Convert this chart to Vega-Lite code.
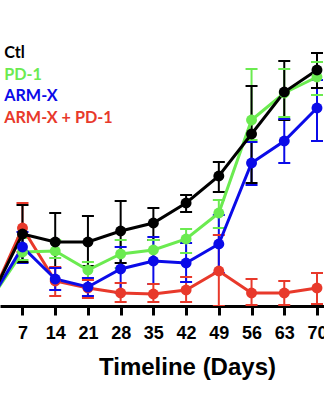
{
  "$schema": "https://vega.github.io/schema/vega-lite/v6.json",
  "width": 324,
  "height": 306,
  "autosize": "none",
  "padding": {"top": 0, "left": 0, "right": 0, "bottom": 94},
  "background": "white",
  "config": {"view": {"stroke": null}},
  "data": {"values": [
    {"group": "ARM-X + PD-1", "day": 0, "v": 5, "lo": 5, "hi": 5},
    {"group": "ARM-X + PD-1", "day": 7, "v": 78, "lo": 54, "hi": 103},
    {"group": "ARM-X + PD-1", "day": 14, "v": 25, "lo": 10, "hi": 39},
    {"group": "ARM-X + PD-1", "day": 21, "v": 18, "lo": 8, "hi": 26},
    {"group": "ARM-X + PD-1", "day": 28, "v": 13, "lo": 4, "hi": 23},
    {"group": "ARM-X + PD-1", "day": 35, "v": 12, "lo": 4, "hi": 22},
    {"group": "ARM-X + PD-1", "day": 42, "v": 16, "lo": 4, "hi": 29},
    {"group": "ARM-X + PD-1", "day": 49, "v": 35, "lo": 0, "hi": 71},
    {"group": "ARM-X + PD-1", "day": 56, "v": 13, "lo": 1, "hi": 27},
    {"group": "ARM-X + PD-1", "day": 63, "v": 13, "lo": 1, "hi": 25},
    {"group": "ARM-X + PD-1", "day": 70, "v": 18, "lo": 2, "hi": 33},
    {"group": "PD-1", "day": 0, "v": 5, "lo": 5, "hi": 5},
    {"group": "PD-1", "day": 7, "v": 54, "lo": 46, "hi": 68},
    {"group": "PD-1", "day": 14, "v": 55, "lo": 48, "hi": 66},
    {"group": "PD-1", "day": 21, "v": 36, "lo": 28, "hi": 44},
    {"group": "PD-1", "day": 28, "v": 52, "lo": 38, "hi": 66},
    {"group": "PD-1", "day": 35, "v": 56, "lo": 44, "hi": 66},
    {"group": "PD-1", "day": 42, "v": 67, "lo": 53, "hi": 77},
    {"group": "PD-1", "day": 49, "v": 93, "lo": 78, "hi": 106},
    {"group": "PD-1", "day": 56, "v": 186, "lo": 166, "hi": 237},
    {"group": "PD-1", "day": 63, "v": 213, "lo": 189, "hi": 237},
    {"group": "PD-1", "day": 70, "v": 229, "lo": 211, "hi": 244},
    {"group": "ARM-X", "day": 0, "v": 5, "lo": 5, "hi": 5},
    {"group": "ARM-X", "day": 7, "v": 59, "lo": 43, "hi": 74},
    {"group": "ARM-X", "day": 14, "v": 27, "lo": 16, "hi": 38},
    {"group": "ARM-X", "day": 21, "v": 19, "lo": 10, "hi": 28},
    {"group": "ARM-X", "day": 28, "v": 37, "lo": 13, "hi": 59},
    {"group": "ARM-X", "day": 35, "v": 45, "lo": 22, "hi": 69},
    {"group": "ARM-X", "day": 42, "v": 43, "lo": 24, "hi": 63},
    {"group": "ARM-X", "day": 49, "v": 62, "lo": 33, "hi": 91},
    {"group": "ARM-X", "day": 56, "v": 143, "lo": 121, "hi": 164},
    {"group": "ARM-X", "day": 63, "v": 165, "lo": 143, "hi": 187},
    {"group": "ARM-X", "day": 70, "v": 198, "lo": 165, "hi": 226},
    {"group": "Ctl", "day": 0, "v": 6, "lo": 6, "hi": 6},
    {"group": "Ctl", "day": 7, "v": 72, "lo": 44, "hi": 101},
    {"group": "Ctl", "day": 14, "v": 64, "lo": 38, "hi": 93},
    {"group": "Ctl", "day": 21, "v": 64, "lo": 40, "hi": 90},
    {"group": "Ctl", "day": 28, "v": 75, "lo": 43, "hi": 105},
    {"group": "Ctl", "day": 35, "v": 83, "lo": 66, "hi": 98},
    {"group": "Ctl", "day": 42, "v": 103, "lo": 94, "hi": 111},
    {"group": "Ctl", "day": 49, "v": 130, "lo": 114, "hi": 144},
    {"group": "Ctl", "day": 56, "v": 172, "lo": 123, "hi": 220},
    {"group": "Ctl", "day": 63, "v": 214, "lo": 186, "hi": 245},
    {"group": "Ctl", "day": 70, "v": 236, "lo": 218, "hi": 253}
  ]},
  "encoding": {
    "x": {"field": "day", "type": "quantitative",
      "scale": {"domain": [2.19, 71.5], "nice": false, "zero": false},
      "axis": {"values": [7, 14, 21, 28, 35, 42, 49, 56, 63, 70], "grid": false,
        "domainColor": "black", "domainWidth": 3, "tickColor": "black", "tickWidth": 3, "tickSize": 9,
        "labelFont": "Liberation Sans", "labelFontWeight": "bold", "labelFontSize": 18, "labelColor": "black",
        "labelPadding": 9, "labelBaseline": "top", "labelFlush": false, "labelOverlap": false,
        "title": "Timeline (Days)", "titleFont": "Liberation Sans", "titleFontWeight": "bold", "titleFontSize": 24,
        "titleColor": "black", "titleX": 187, "titleY": 68, "titleAlign": "center", "titleBaseline": "alphabetic"}},
    "y": {"field": "v", "type": "quantitative", "scale": {"domain": [0, 306], "nice": false}, "axis": null},
    "color": {"field": "group", "type": "nominal",
      "scale": {"domain": ["Ctl", "PD-1", "ARM-X", "ARM-X + PD-1"], "range": ["#000000", "#6BEB50", "#0B0BE8", "#E8392B"]},
      "legend": {"orient": "none", "legendX": -12, "legendY": 45, "padding": 0, "title": null, "symbolSize": 0.01, "symbolStrokeWidth": 0,
        "symbolOpacity": 0, "labelOffset": 0, "labelFont": "Lato", "labelFontWeight": "bold", "labelFontSize": 16.2,
        "rowPadding": 4.6, "labelLimit": 0,
        "encode": {"labels": {"update": {"fill": {"signal": "scale('color', datum.value)"}}}}}}
  },
  "layer": [
    {"mark": {"type": "rule", "strokeWidth": 2, "clip": true}, "encoding": {"y": {"field": "lo", "type": "quantitative"}, "y2": {"field": "hi"}}},
    {"mark": {"type": "tick", "orient": "horizontal", "size": 12, "thickness": 2, "opacity": 1, "clip": true}, "encoding": {"y": {"field": "lo", "type": "quantitative"}}},
    {"mark": {"type": "tick", "orient": "horizontal", "size": 12, "thickness": 2, "opacity": 1, "clip": true}, "encoding": {"y": {"field": "hi", "type": "quantitative"}}},
    {"mark": {"type": "line", "strokeWidth": 3, "clip": true}},
    {"mark": {"type": "point", "filled": true, "size": 120, "opacity": 1, "clip": true}}
  ]
}
